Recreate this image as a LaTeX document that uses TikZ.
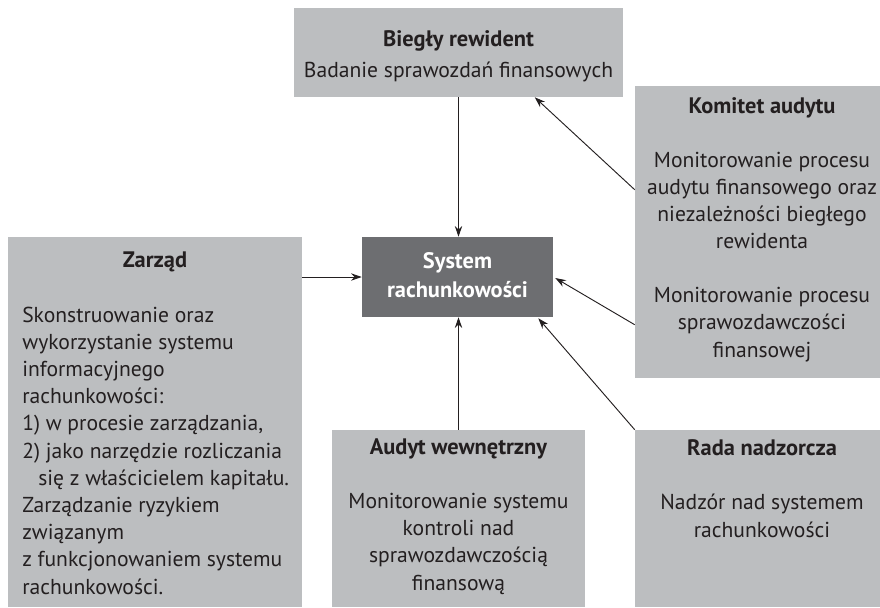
\documentclass[tikz,border=0pt]{standalone}
\usepackage{fontspec}
\setmainfont{PT Sans}
\usetikzlibrary{arrows.meta, calc, fit}
\definecolor{jasny}{HTML}{BCBEC0}
\definecolor{ciemny}{HTML}{6D6E71}
\definecolor{tusz}{HTML}{231F20}
\newcommand{\tytul}{\fontsize{16.8}{20.4}\selectfont\bfseries}

\begin{document}
\begin{tikzpicture}[
  x=0.75pt, y=-0.75pt,
  font=\fontsize{16.2}{20.4}\selectfont,
  pole/.style={fill=jasny, inner sep=0pt},
  rdzen/.style={fill=ciemny, inner sep=0pt},
  opis/.style={text=tusz, align=center, inner sep=0pt, anchor=base},
  strzalka/.style={draw=tusz, line width=0.7pt, -{Stealth[length=8pt,width=5.5pt]}}
]
\useasboundingbox (0,0) rectangle (880,607);

% pola
\node[pole, fit={(294,8) (623,97)}]    (bieg) {};
\node[pole, fit={(635,86) (889,378)}]  (kom)  {};
\node[pole, fit={(8,237) (302,607)}]   (zar)  {};
\node[rdzen, fit={(362,237) (553,317)}] (sys) {};
\node[pole, fit={(332,430) (585,607)}] (aud)  {};
\node[pole, fit={(635,430) (889,607)}] (rada) {};

% teksty (punkt = linia bazowa ostatniego wiersza)
\node[opis] (bieg-t) at (458.5,77) {{\tytul Biegły rewident}\\[2.2pt]
  Badanie sprawozdań finansowych};
\node[opis] (kom-t) at (762,357) {{\tytul Komitet audytu}\\[20pt]
  Monitorowanie procesu\\ audytu finansowego oraz\\ niezależności biegłego\\ rewidenta\\[20pt]
  Monitorowanie procesu\\ sprawozdawczości\\ finansowej};
\node[opis] (zar-t) at (155,267) {\tytul Zarząd};
\node[opis, align=left, anchor=base west] (zar-o) at (22,594) {Skonstruowanie oraz\\
  wykorzystanie systemu\\ informacyjnego\\ rachunkowości:\\ 1) w procesie zarządzania,\\
  2) jako narzędzie rozliczania\\ \hspace*{12pt}się z właścicielem kapitału.\\
  Zarządzanie ryzykiem\\ związanym\\ z funkcjonowaniem systemu\\ rachunkowości.};
\node[opis, text=white] (sys-t) at (457.5,297)
  {{\tytul System}\\[0.8pt] {\tytul rachunkowości}};
\node[opis] (aud-t) at (458.5,590) {{\tytul Audyt wewnętrzny}\\[20pt]
  Monitorowanie systemu\\ kontroli nad\\ sprawozdawczością\\ finansową};
\node[opis] (rada-t) at (762,537) {{\tytul Rada nadzorcza}\\[20pt]
  Nadzór nad systemem\\ rachunkowości};

% strzałki
\draw[strzalka] (bieg.south) -- (bieg.south |- sys.north);
\draw[strzalka] ($(kom.north west)+(0,104)$) -- ($(bieg.south west)+(241,0)$);
\draw[strzalka] (zar.east |- sys.west) -- (sys.west);
\draw[strzalka] ($(kom.north west)+(0,239)$) -- ($(sys.east)+(2,1)$);
\draw[strzalka] (aud.north) -- (aud.north |- sys.south);
\draw[strzalka] (rada.north west) -- ($(sys.south east)+(-15,1)$);

\end{tikzpicture}
\end{document}
